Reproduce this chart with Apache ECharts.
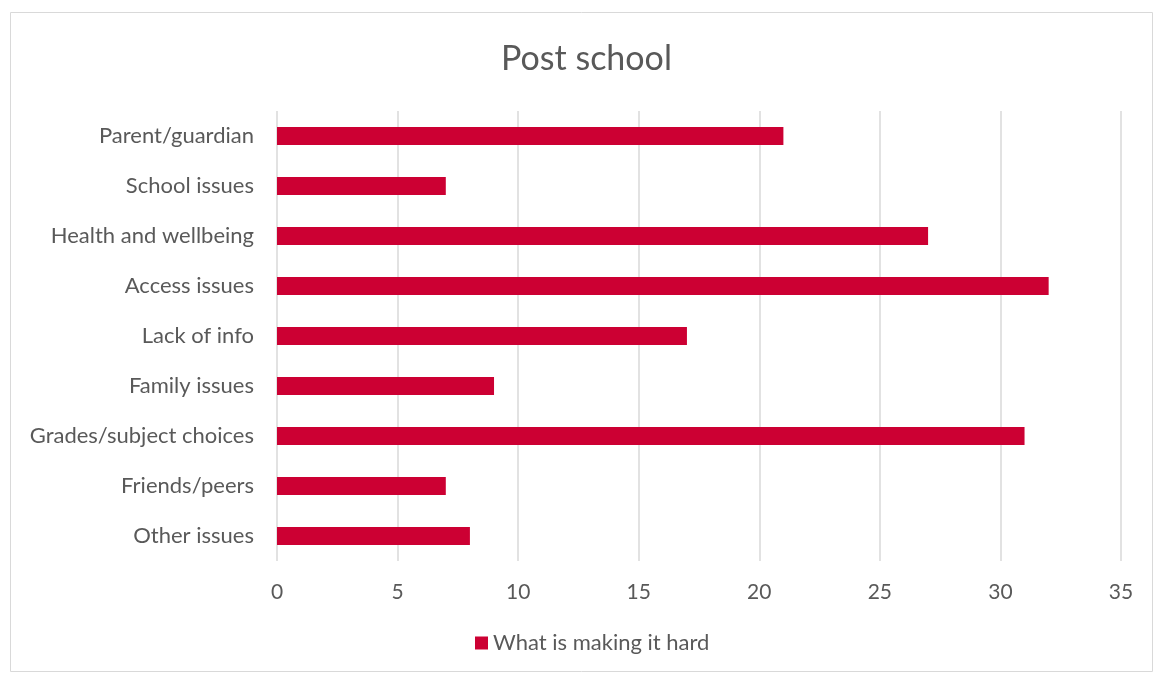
<!DOCTYPE html>
<html>
<head>
<meta charset="utf-8">
<script src="https://cdn.jsdelivr.net/npm/echarts@6/dist/echarts.min.js"></script>
<style>
  html, body { margin: 0; padding: 0; background: #ffffff; }
  #chart { width: 1155px; height: 675px; }
</style>
</head>
<body>
<div id="chart"></div>
<script>
// Categories listed top to bottom
const categories = [
  'Parent/guardian',
  'School issues',
  'Health and wellbeing',
  'Access issues',
  'Lack of info',
  'Family issues',
  'Grades/subject choices',
  'Friends/peers',
  'Other issues'
];
const seriesName = 'What is making it hard';
const values = [21, 7, 27, 32, 17, 9, 31, 7, 8];
const xTicks = [0, 5, 10, 15, 20, 25, 30, 35];

const textColor = '#595959';
const barColor = '#CC0033';
const fontFamily = 'Lato, "Open Sans", sans-serif';

const chart = echarts.init(document.getElementById('chart'));
chart.setOption({
  animation: false,
  textStyle: { fontFamily: fontFamily },
  graphic: [{
    type: 'rect',
    shape: { x: 10.5, y: 12.5, width: 1142, height: 659 },
    style: { fill: 'none', stroke: '#d9d9d9', lineWidth: 1 },
    silent: true
  }],
  title: {
    text: 'Post school',
    left: 496,
    top: 37,
    textStyle: { color: textColor, fontSize: 34, fontWeight: 'normal', fontFamily: fontFamily }
  },
  legend: {
    bottom: 16,
    left: 470,
    itemWidth: 13,
    itemHeight: 13,
    icon: 'rect',
    itemGap: 6,
    textStyle: { color: textColor, fontSize: 22, fontFamily: fontFamily },
    data: [seriesName]
  },
  grid: { left: 277, right: 34, top: 111, bottom: 114, containLabel: false },
  xAxis: {
    type: 'value',
    min: xTicks[0],
    max: xTicks[xTicks.length - 1],
    interval: 5,
    axisLine: { show: false },
    axisTick: { show: false },
    axisLabel: { color: textColor, fontSize: 21, margin: 21, fontFamily: fontFamily },
    splitLine: { lineStyle: { color: '#d9d9d9', width: 1.5 } }
  },
  yAxis: {
    type: 'category',
    inverse: true,
    data: categories,
    axisLine: { show: false },
    axisTick: { show: false },
    axisLabel: { color: textColor, fontSize: 22, margin: 23, fontFamily: fontFamily }
  },
  series: [{
    name: seriesName,
    type: 'bar',
    data: values,
    barWidth: '36%',
    itemStyle: { color: barColor }
  }]
});
</script>
</body>
</html>
